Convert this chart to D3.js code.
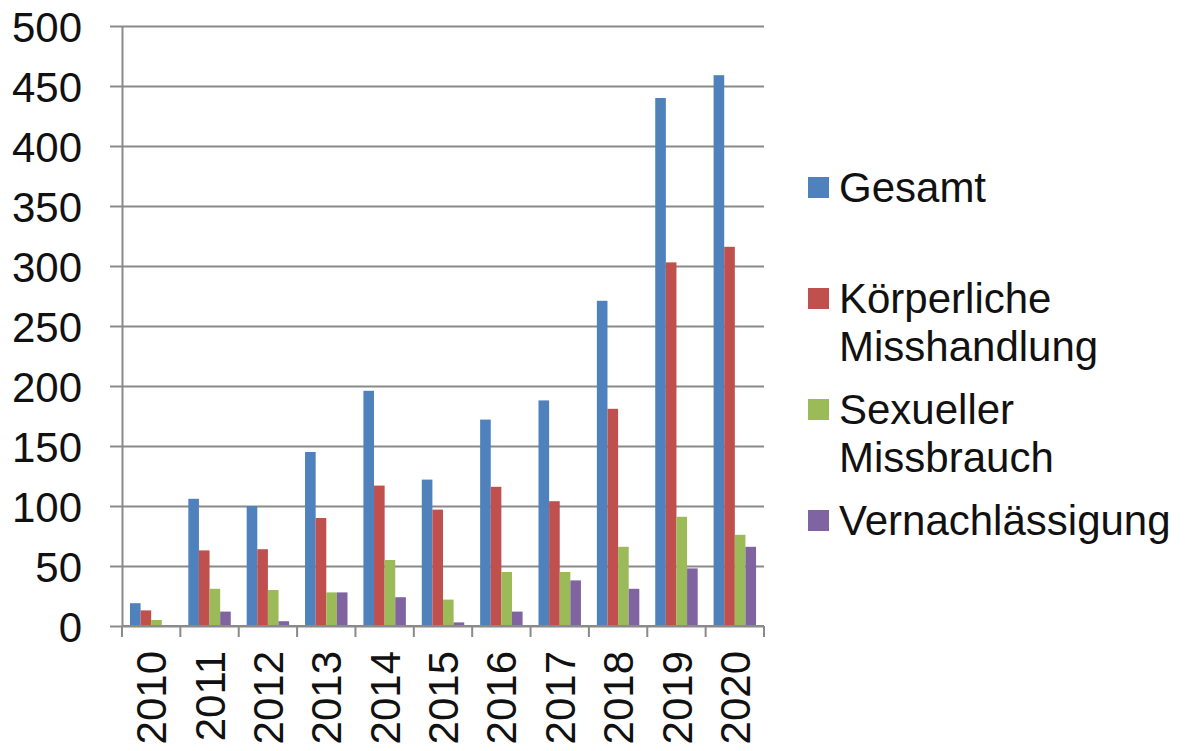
<!DOCTYPE html>
<html>
<head>
<meta charset="utf-8">
<script src="https://cdn.jsdelivr.net/npm/d3@7"></script>
<style>
    html, body { margin: 0; padding: 0; background: #fff; }
    svg { display: block; font-family: "Liberation Sans", Arial, sans-serif; }
    .grid line { stroke: #8a8a8a; stroke-width: 2; }
    .grid path { display: none; }
    .axis path, .axis line { stroke: #8a8a8a; stroke-width: 2; }
    .axis text { fill: #111; font-size: 42px; }
    .legend text { fill: #111; font-size: 42px; }
</style>
</head>
<body>
<div id="chart"></div>
<script>
const years = ['2010', '2011', '2012', '2013', '2014', '2015', '2016', '2017', '2018', '2019', '2020'];
const seriesNames = ['Gesamt', 'Körperliche Misshandlung', 'Sexueller Missbrauch', 'Vernachlässigung'];
const gesamt = [19, 106, 100, 145, 196, 122, 172, 188, 271, 440, 459];
const koerperlich = [13, 63, 64, 90, 117, 97, 116, 104, 181, 303, 316];
const sexuell = [5, 31, 30, 28, 55, 22, 45, 45, 66, 91, 76];
const vernachlaessigung = [0, 12, 4, 28, 24, 3, 12, 38, 31, 48, 66];
const yTicks = [0, 50, 100, 150, 200, 250, 300, 350, 400, 450, 500];
const colors = ['#4f81bd', '#c0504d', '#9bbb59', '#8064a2'];

const seriesValues = [gesamt, koerperlich, sexuell, vernachlaessigung];
const data = years.map((year, i) => ({
    year,
    values: seriesNames.map((name, s) => ({ name, value: seriesValues[s][i] }))
}));

const totalWidth = 1192;
const totalHeight = 751;
const plotLeft = 122;
const plotRight = 764;
const plotTop = 26;
const plotBottom = 626;

const svg = d3.select('#chart').append('svg')
    .attr('width', totalWidth)
    .attr('height', totalHeight);

const scaleY = d3.scaleLinear()
    .domain([0, 500])
    .range([plotBottom, plotTop]);

const scaleX = d3.scaleBand()
    .domain(years)
    .range([plotLeft, plotRight])
    .paddingInner(0)
    .paddingOuter(0);

const scaleSeries = d3.scaleBand()
    .domain(seriesNames)
    .range([0, scaleX.bandwidth()])
    .paddingInner(0)
    .paddingOuter(0.75);

// horizontal gridlines
svg.append('g')
    .attr('class', 'grid')
    .attr('transform', `translate(${plotLeft}, 0)`)
    .call(d3.axisLeft(scaleY)
        .tickValues(yTicks)
        .tickSize(-(plotRight - plotLeft))
        .tickFormat(''));

// bars
svg.append('g')
    .selectAll('g')
    .data(data)
    .enter()
    .append('g')
    .attr('transform', d => `translate(${scaleX(d.year)}, 0)`)
    .selectAll('rect')
    .data(d => d.values)
    .enter()
    .append('rect')
    .attr('x', d => scaleSeries(d.name))
    .attr('y', d => scaleY(d.value))
    .attr('width', scaleSeries.bandwidth())
    .attr('height', d => plotBottom - scaleY(d.value))
    .attr('fill', (d, i) => colors[i]);

// y axis
const yAxis = svg.append('g')
    .attr('class', 'axis')
    .attr('transform', `translate(${plotLeft}, 0)`)
    .call(d3.axisLeft(scaleY)
        .tickValues(yTicks)
        .tickSize(12)
        .tickSizeOuter(0)
        .tickPadding(28));
yAxis.selectAll('text').attr('dy', '0.36em');

// x axis: ticks at category boundaries
const xAxis = svg.append('g')
    .attr('class', 'axis')
    .attr('transform', `translate(0, ${plotBottom})`);
xAxis.append('line')
    .attr('x1', plotLeft)
    .attr('x2', plotRight)
    .attr('y1', 0)
    .attr('y2', 0);
xAxis.selectAll('.tick-mark')
    .data(years.concat(['end']))
    .enter()
    .append('line')
    .attr('class', 'tick-mark')
    .attr('x1', d => d === 'end' ? plotRight : scaleX(d))
    .attr('x2', d => d === 'end' ? plotRight : scaleX(d))
    .attr('y1', 0)
    .attr('y2', 11);
xAxis.selectAll('text')
    .data(years)
    .enter()
    .append('text')
    .attr('transform', d => `translate(${scaleX(d) + scaleX.bandwidth() / 2}, 25) rotate(-90)`)
    .attr('text-anchor', 'end')
    .attr('dy', '0.36em')
    .text(d => d);

// legend
const legendLines = [['Gesamt'], ['Körperliche', 'Misshandlung'], ['Sexueller', 'Missbrauch'], ['Vernachlässigung']];
const legend = svg.append('g')
    .attr('class', 'legend')
    .attr('transform', 'translate(808, 177)');
const entry = legend.selectAll('g')
    .data(seriesNames)
    .enter()
    .append('g')
    .attr('transform', (d, i) => `translate(0, ${i * 111})`);
entry.append('rect')
    .attr('width', 21)
    .attr('height', 21)
    .attr('fill', (d, i) => colors[i]);
entry.append('text')
    .attr('x', 31)
    .attr('y', 25)
    .selectAll('tspan')
    .data((d, i) => legendLines[i])
    .enter()
    .append('tspan')
    .attr('x', 31)
    .attr('dy', (d, j) => j === 0 ? 0 : 48)
    .text(d => d);
</script>
</body>
</html>
